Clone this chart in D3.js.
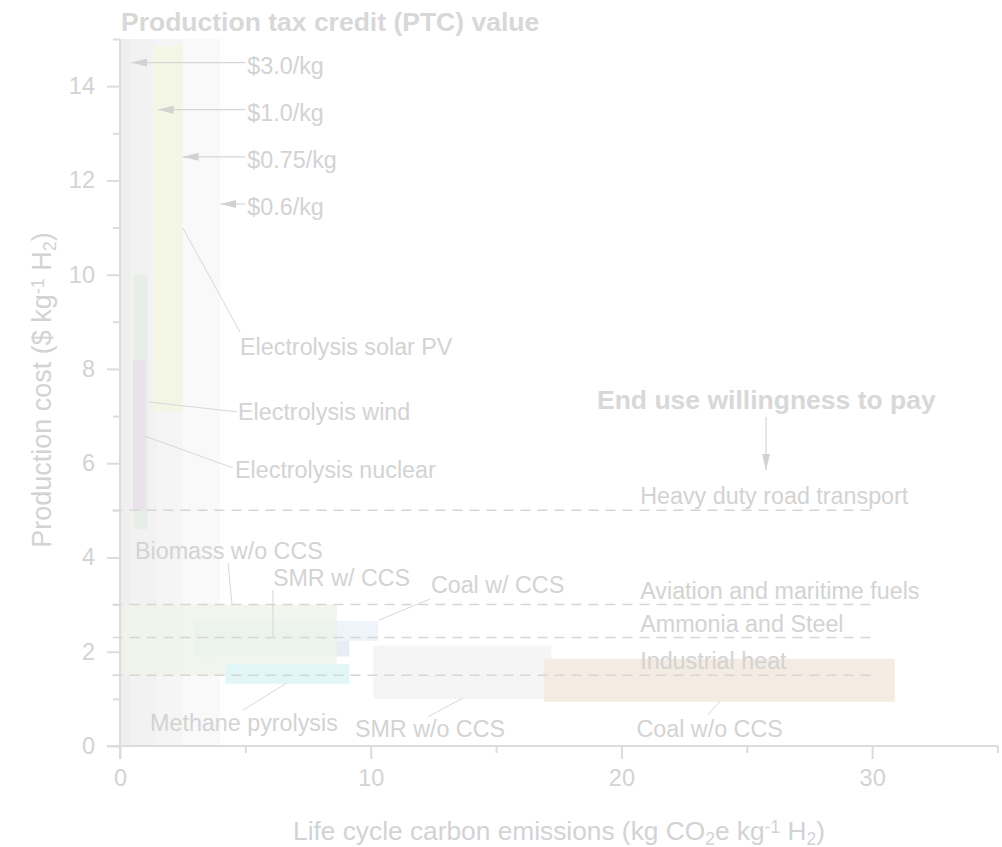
<!DOCTYPE html>
<html>
<head>
<meta charset="utf-8">
<script src="https://cdn.jsdelivr.net/npm/d3@7"></script>
<style>
  html, body { margin: 0; padding: 0; background: #ffffff; }
  svg { display: block; font-family: "Liberation Sans", Arial, Helvetica, sans-serif; }
</style>
</head>
<body>
<svg id="chart" width="1002" height="847"></svg>
<script>
// Hydrogen production pathways: emission range (kg CO2e / kg H2) and cost range ($ / kg H2)
const pathways   = ["SMR w/ CCS", "Biomass w/o CCS", "Coal w/ CCS", "Methane pyrolysis",
                    "Electrolysis solar PV", "Electrolysis wind", "Electrolysis nuclear",
                    "SMR w/o CCS", "Coal w/o CCS"];
const emisLow    = [3.0, 0.1, 8.65, 4.2, 1.35, 0.55, 0.5, 10.1, 16.9];
const emisHigh   = [9.15, 8.65, 10.3, 9.15, 2.5, 1.1, 1.0, 17.2, 30.9];
const costLow    = [1.9, 1.5, 2.23, 1.32, 7.1, 4.6, 5.0, 1.0, 0.94];
const costHigh   = [2.65, 3.0, 2.65, 1.74, 14.85, 10.0, 8.2, 2.13, 1.85];

// PTC tiers: emission thresholds and credit value
const ptcLabels  = ["$3.0/kg", "$1.0/kg", "$0.75/kg", "$0.6/kg"];
const ptcEmisMin = [0, 0.45, 1.5, 2.5];
const ptcEmisMax = [0.45, 1.5, 2.5, 4.0];

// End-use willingness to pay ($ / kg H2)
const endUses     = ["Heavy duty road transport", "Aviation and maritime fuels", "Ammonia and Steel", "Industrial heat"];
const willingness = [5.0, 3.0, 2.3, 1.5];

// Axis ticks
const xTicks = [0, 10, 20, 30];
const xMinor = [5, 15, 25, 35];
const yTicks = [0, 2, 4, 6, 8, 10, 12, 14];
const yMinor = [1, 3, 5, 7, 9, 11, 13, 15];

// ---- styling / layout ----
const fills = {
  "SMR w/ CCS": "#e6edf4",
  "Biomass w/o CCS": "#eef4ea",
  "Coal w/ CCS": "#eef4fa",
  "Methane pyrolysis": "#e2f6f8",
  "Electrolysis solar PV": "#f4f6e5",
  "Electrolysis wind": "#e7eee7",
  "Electrolysis nuclear": "#eae2ea",
  "SMR w/o CCS": "#f5f5f5",
  "Coal w/o CCS": "#f4ebe2"
};
const opac = {
  "Biomass w/o CCS": 0.8
};
const bandFills = ["#efefef", "#f2f2f2", "#f5f5f5", "#f9f9f9"];
const textCol = "#d3d3d3";
const axisCol = "#dcdcdc";
const lineCol = "#d8d8d8";
const labelSize = 23.3;

// label placement (data coordinates): text anchor, leader start, leader end
const labelLayout = {
  "Electrolysis solar PV": {t: [4.79, 8.3],  l: [[2.51, 10.99], [4.79, 8.78]]},
  "Electrolysis wind":     {t: [4.71, 6.92], l: [[1.12, 7.3], [4.67, 7.09]]},
  "Electrolysis nuclear":  {t: [4.59, 5.69], l: [[0.96, 6.58], [4.51, 5.9]]},
  "Biomass w/o CCS":       {t: [0.6, 3.97],  l: [[4.31, 3.88], [4.47, 2.99]]},
  "SMR w/ CCS":            {t: [6.1, 3.39],  l: [[6.1, 3.31], [6.1, 2.29]]},
  "Coal w/ CCS":           {t: [12.4, 3.25], l: [[12.37, 3.12], [10.33, 2.67]]},
  "Methane pyrolysis":     {t: [1.2, 0.32],  l: [[4.9, 0.76], [6.66, 1.34]]},
  "SMR w/o CCS":           {t: [9.37, 0.19], l: [[12.29, 0.62], [13.68, 1.02]]},
  "Coal w/o CCS":          {t: [20.6, 0.19], l: [[23.45, 0.66], [23.93, 0.95]]}
};

const svg = d3.select("#chart");
const x = d3.scaleLinear().domain([0, 35]).range([120, 997.5]);
const y = d3.scaleLinear().domain([0, 15]).range([746, 39]);

const defs = svg.append("defs");
defs.append("marker")
  .attr("id", "head")
  .attr("viewBox", "0 0 16 8")
  .attr("refX", 16).attr("refY", 4)
  .attr("markerWidth", 16).attr("markerHeight", 8)
  .attr("markerUnits", "userSpaceOnUse")
  .attr("orient", "auto")
  .append("path").attr("d", "M0,0 L16,4 L0,8 Z").attr("fill", "#d2d2d2");

// PTC tier bands
svg.append("g").selectAll("rect").data(ptcLabels).join("rect")
  .attr("x", (d, i) => x(ptcEmisMin[i]))
  .attr("width", (d, i) => x(ptcEmisMax[i]) - x(ptcEmisMin[i]))
  .attr("y", y(15)).attr("height", y(0) - y(15))
  .attr("fill", (d, i) => bandFills[i]);

// pathway boxes
svg.append("g").selectAll("rect").data(pathways).join("rect")
  .attr("x", (d, i) => x(emisLow[i]))
  .attr("width", (d, i) => x(emisHigh[i]) - x(emisLow[i]))
  .attr("y", (d, i) => y(costHigh[i]))
  .attr("height", (d, i) => y(costLow[i]) - y(costHigh[i]))
  .attr("fill", d => fills[d])
  .attr("fill-opacity", d => opac[d] || 1);

// willingness-to-pay lines
svg.append("g").selectAll("line").data(endUses).join("line")
  .attr("x1", x(-0.3)).attr("x2", x(30))
  .attr("y1", (d, i) => y(willingness[i])).attr("y2", (d, i) => y(willingness[i]))
  .attr("stroke", "#d6d6d6").attr("stroke-width", 1.5)
  .attr("stroke-dasharray", "10,7");

svg.append("g").selectAll("text").data(endUses).join("text")
  .attr("x", x(20.75))
  .attr("y", (d, i) => y(willingness[i]) - 6)
  .attr("font-size", labelSize).attr("fill", textCol)
  .text(d => d);

// leader lines and pathway labels
const lg = svg.append("g");
pathways.forEach(p => {
  const L = labelLayout[p];
  lg.append("line")
    .attr("x1", x(L.l[0][0])).attr("y1", y(L.l[0][1]))
    .attr("x2", x(L.l[1][0])).attr("y2", y(L.l[1][1]))
    .attr("stroke", lineCol).attr("stroke-width", 1);
  lg.append("text")
    .attr("x", x(L.t[0])).attr("y", y(L.t[1]))
    .attr("font-size", labelSize).attr("fill", textCol)
    .text(p);
});

// PTC arrows and labels
const ptcCost = [14.5, 13.5, 12.5, 11.5];
const pg = svg.append("g");
ptcLabels.forEach((lab, i) => {
  pg.append("line")
    .attr("x1", x(5.0)).attr("y1", y(ptcCost[i]))
    .attr("x2", x(ptcEmisMax[i])).attr("y2", y(ptcCost[i]))
    .attr("stroke", "#d6d6d6").attr("stroke-width", 1.2)
    .attr("marker-end", "url(#head)");
  pg.append("text")
    .attr("x", x(5.08)).attr("y", y(ptcCost[i]) + 11)
    .attr("font-size", labelSize).attr("fill", textCol)
    .text(lab);
});

svg.append("text")
  .attr("x", 121).attr("y", 31)
  .attr("font-size", 26.5).attr("font-weight", "bold").attr("fill", "#d8d8d8")
  .text("Production tax credit (PTC) value");

svg.append("text")
  .attr("x", 597).attr("y", 409)
  .attr("font-size", 26.5).attr("font-weight", "bold").attr("fill", "#d8d8d8")
  .text("End use willingness to pay");

svg.append("line")
  .attr("x1", 766).attr("y1", 417).attr("x2", 766).attr("y2", 470)
  .attr("stroke", "#d6d6d6").attr("stroke-width", 1.2)
  .attr("marker-end", "url(#head)");

// axes
const xAxisG = svg.append("g").attr("transform", `translate(0,${y(0)})`);
xAxisG.append("line").attr("x1", 107).attr("x2", x(35)).attr("stroke", axisCol).attr("stroke-width", 2);
xAxisG.append("g").call(d3.axisBottom(x).tickValues(xTicks).tickSize(13).tickSizeOuter(0).tickPadding(10))
  .call(g => g.select(".domain").remove())
  .call(g => g.selectAll("line").attr("stroke", axisCol).attr("stroke-width", 2))
  .call(g => g.selectAll("text").attr("fill", textCol).attr("font-size", 23.5).attr("font-family", "Liberation Sans, Arial, sans-serif"));
xAxisG.append("g").call(d3.axisBottom(x).tickValues(xMinor).tickSize(7).tickFormat(""))
  .call(g => g.select(".domain").remove())
  .call(g => g.selectAll("line").attr("stroke", axisCol).attr("stroke-width", 2));

const yAxisG = svg.append("g").attr("transform", `translate(${x(0)},0)`);
yAxisG.append("line").attr("y1", y(15)).attr("y2", y(0) + 13).attr("stroke", axisCol).attr("stroke-width", 2);
yAxisG.append("g").call(d3.axisLeft(y).tickValues(yTicks).tickSize(13).tickSizeOuter(0).tickPadding(12))
  .call(g => g.select(".domain").remove())
  .call(g => g.selectAll("line").attr("stroke", axisCol).attr("stroke-width", 2))
  .call(g => g.selectAll("text").attr("fill", textCol).attr("font-size", 23.5).attr("font-family", "Liberation Sans, Arial, sans-serif"));
yAxisG.append("g").call(d3.axisLeft(y).tickValues(yMinor).tickSize(7).tickFormat(""))
  .call(g => g.select(".domain").remove())
  .call(g => g.selectAll("line").attr("stroke", axisCol).attr("stroke-width", 2));

// axis titles
const xt = svg.append("text")
  .attr("x", 559).attr("y", 840)
  .attr("text-anchor", "middle").attr("font-size", 26.3).attr("fill", textCol);
xt.append("tspan").text("Life cycle carbon emissions (kg CO");
xt.append("tspan").attr("baseline-shift", "-25%").attr("font-size", 17.5).text("2");
xt.append("tspan").text("e kg");
xt.append("tspan").attr("baseline-shift", "40%").attr("font-size", 17.5).text("-1");
xt.append("tspan").text(" H");
xt.append("tspan").attr("baseline-shift", "-25%").attr("font-size", 17.5).text("2");
xt.append("tspan").text(")");

const yt = svg.append("text")
  .attr("transform", "translate(51,390) rotate(-90)")
  .attr("text-anchor", "middle").attr("font-size", 27).attr("fill", textCol);
yt.append("tspan").text("Production cost ($ kg");
yt.append("tspan").attr("baseline-shift", "40%").attr("font-size", 18).text("-1");
yt.append("tspan").text(" H");
yt.append("tspan").attr("baseline-shift", "-25%").attr("font-size", 18).text("2");
yt.append("tspan").text(")");
</script>
</body>
</html>
